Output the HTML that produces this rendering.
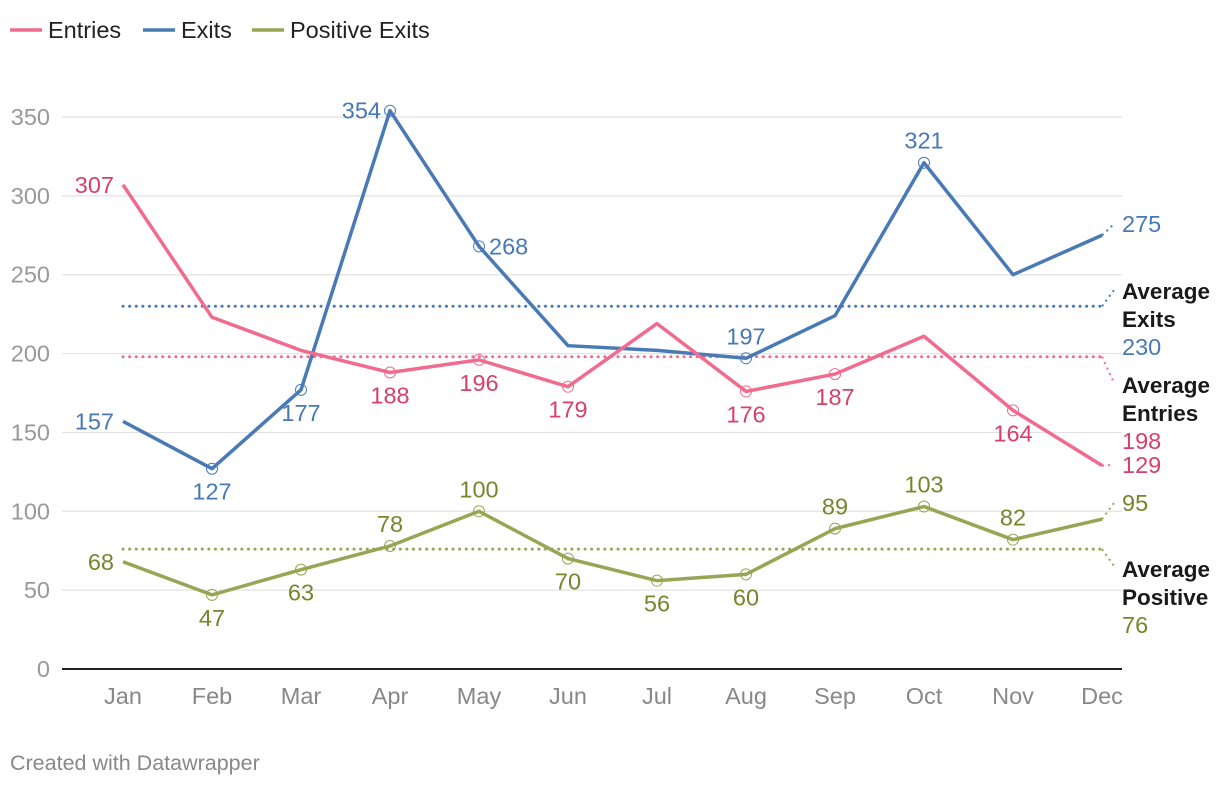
<!DOCTYPE html>
<html><head><meta charset="utf-8"><style>
body{margin:0;background:#fff;font-family:"Liberation Sans",Arial,sans-serif}
svg{display:block}
</style></head><body>
<svg id="c" width="1220" height="786" font-family="Liberation Sans, Arial, sans-serif">
<g font-size="23.5" fill="#222">
 <g><line x1="10" y1="30" x2="42" y2="30" stroke="#f06b8d" stroke-width="3.5"/><text x="48" y="38">Entries</text></g>
 <g><line x1="143" y1="30" x2="175" y2="30" stroke="#4a7ab6" stroke-width="3.5"/><text x="181" y="38">Exits</text></g>
 <g><line x1="252" y1="30" x2="284" y2="30" stroke="#98a554" stroke-width="3.5"/><text x="290" y="38">Positive Exits</text></g>
</g>
<g id="grid"></g>
<g id="xt"></g>
<g id="marks"></g>
<text x="10" y="770" font-size="21.5" fill="#888">Created with Datawrapper</text>
</svg>
<script>
const months=['Jan','Feb','Mar','Apr','May','Jun','Jul','Aug','Sep','Oct','Nov','Dec'];
const yTicks=[0,50,100,150,200,250,300,350];
const entries=[307,223,202,188,196,179,219,176,187,211,164,129];
const exits=[157,127,177,354,268,205,202,197,224,321,250,275];
const positive=[68,47,63,78,100,70,56,60,89,103,82,95];
const avgEntries=198, avgExits=230, avgPositive=76;
const entriesLbl=['l','','','b','b','b','','b','b','','b',''];
const exitsLbl=['l','b','b','l','r','','','a','','a','',''];
const positiveLbl=['l','b','b','a','a','b','b','b','a','a','a',''];

const NS='http://www.w3.org/2000/svg';
const X=i=>123+i*89;
const Y=v=>669-v*(552/350);
function mk(tag,attrs,parent,txt){const e=document.createElementNS(NS,tag);for(const k in attrs)e.setAttribute(k,attrs[k]);if(txt!==undefined)e.textContent=txt;parent.appendChild(e);return e;}
const grid=document.getElementById('grid'),xt=document.getElementById('xt'),marks=document.getElementById('marks');
yTicks.forEach(t=>{
 const l=mk('line',{x1:62,x2:1122,y1:Y(t),y2:Y(t),stroke:t===0?'#222':'#e2e2e2','stroke-width':t===0?2:1.2},grid);
 
 
 const tx=mk('text',{x:50,y:Y(t)+8,'text-anchor':'end','font-size':23.5,fill:'#999'},grid,t);
 
 
});
months.forEach((m,i)=>{
 const tx=mk('text',{x:X(i),y:704,'text-anchor':'middle','font-size':23.5,fill:'#888'},xt,m);
 
 
});
function avg(v,col,name){
 const l=mk('line',{x1:X(0),x2:X(11),y1:Y(v),y2:Y(v),stroke:col,'stroke-width':3,'stroke-dasharray':'0.1 6.5','stroke-linecap':'round'},marks);
 
 
}
avg(avgExits,'#4a7ab6','average-exits-line');
avg(avgEntries,'#f06b8d','average-entries-line');
avg(avgPositive,'#98a554','average-positive-line');
function series(data,lbl,col,tcol,name){
 const p=mk('polyline',{points:data.map((v,i)=>X(i)+','+Y(v)).join(' '),fill:'none',stroke:col,'stroke-width':3.5,'stroke-linejoin':'round'},marks);
 
 
 data.forEach((v,i)=>{
  const s=lbl[i]; if(!s) return;
  const x=X(i),y=Y(v);
  if(i>0){const c=mk('circle',{cx:x,cy:y,r:5.5,fill:'none',stroke:col,'stroke-width':1},marks);
   
   }
  let tx=x,ty=y+8,a='middle';
  if(s==='l'){tx=x-9;a='end';}
  if(s==='r'){tx=x+10;a='start';}
  if(s==='a'){ty=y-14;}
  if(s==='b'){ty=y+31;}
  const t=mk('text',{x:tx,y:ty,'text-anchor':a,'font-size':23.5,fill:tcol},marks,v);
  
  
 });
}
series(exits,exitsLbl,'#4a7ab6','#4679b5','exits');
series(entries,entriesLbl,'#f06b8d','#d6406b','entries');
series(positive,positiveLbl,'#98a554','#77852d','positive');
function conn(y1,y2,col,name){
 const l=mk('line',{x1:X(11),y1:y1,x2:1114,y2:y2,stroke:col,'stroke-width':2,'stroke-dasharray':'2 4'},marks);
 
 
}
conn(Y(exits[11]),224,'#4a7ab6','exits-end-connector');
conn(Y(avgExits),290,'#4a7ab6','avg-exits-connector');
conn(Y(avgEntries),383,'#f06b8d','avg-entries-connector');
conn(Y(entries[11]),465,'#f06b8d','entries-end-connector');
conn(Y(positive[11]),503,'#98a554','positive-end-connector');
conn(Y(avgPositive),566,'#98a554','avg-positive-connector');
function rt(y,txt,col,bold,name){
 const t=mk('text',{x:1122,y:y,'font-size':bold?22.5:23.5,fill:col,'font-weight':bold?'bold':'normal'},marks,txt);
 
 
}
rt(232,exits[11],'#4679b5',false,'exits-end-label');
rt(299,'Average','#1a1a1a',true,'avg-exits-title');
rt(327,'Exits','#1a1a1a',true,'avg-exits-title-2');
rt(355,avgExits,'#4679b5',false,'avg-exits-value');
rt(393,'Average','#1a1a1a',true,'avg-entries-title');
rt(421,'Entries','#1a1a1a',true,'avg-entries-title-2');
rt(449,avgEntries,'#d6406b',false,'avg-entries-value');
rt(473,entries[11],'#d6406b',false,'entries-end-label');
rt(511,positive[11],'#77852d',false,'positive-end-label');
rt(577,'Average','#1a1a1a',true,'avg-positive-title');
rt(605,'Positive','#1a1a1a',true,'avg-positive-title-2');
rt(633,avgPositive,'#77852d',false,'avg-positive-value');
</script>
</body></html>
